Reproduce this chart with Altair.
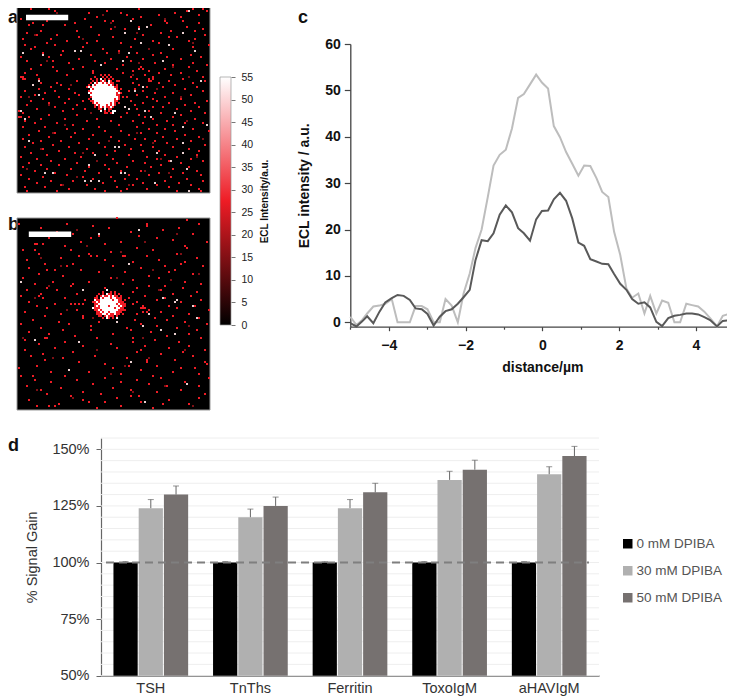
import altair as alt
import pandas as pd

FONT = "Liberation Sans"

# ---------- panels a and b: sparse detector counts ----------
a_red = {
 4:[7,16,61,88,93], 5:[19,45,85,95], 6:[36,52,79], 7:[55,91,71], 8:[82,62,40], 9:[34,58,2],
 10:[44,48,74,83,15], 11:[29,8,75,91], 12:[24,67,13,6], 13:[65,61,85,37], 14:[54,93,47], 15:[30,12,89,77],
 16:[54,72,5,83], 17:[20,41,63,94,10], 18:[31,80,76,48], 19:[3,89,59,17], 20:[25,86,68,40], 21:[62,15,52,35,71],
 22:[76,19,4,96], 23:[9,33,88,57], 24:[43,66,78,7], 25:[29,32,23,89,51], 26:[13,3,45,60,72], 27:[22,87,37,68],
 28:[55,16,2,75,92], 29:[31,47,82,63], 30:[39,73,5,18,57], 31:[26,88,69,44], 32:[53,12,42,78,95], 33:[18,33,62,86],
 34:[61,63,50,28,7,74], 35:[66,58,20,90,38], 36:[38,71,4,53,82], 37:[10,64,77,44,25], 38:[2,3,57,68,93],
 39:[3,4,11,66,68,60,83], 40:[66,67,30,51,76,94], 41:[12,20,58,71,88], 42:[42,8,61,79,22], 43:[17,65,73,35,90],
 44:[26,59,84,11,70], 45:[4,56,63,93,19], 46:[69,29,14,78], 47:[60,87,9,31], 48:[21,55,65,74,2], 49:[13,82,68,26],
 50:[57,95,33,7,70], 51:[24,63,76,16,89], 52:[59,30,5,84], 53:[68,19,91,73], 54:[28,60,10,80,34], 55:[66,23,87,1],
 56:[3,72,55,44,94], 57:[16,61,82,30], 58:[1,2,6,78,64,52], 59:[24,68,89,40,12], 60:[4,58,35,75,47],
 61:[20,84,63,9,93], 62:[51,28,70,78], 63:[14,83,41,60,3], 64:[66,33,88,25,74], 65:[11,52,79,44,96], 66:[29,62,70,19],
 67:[6,84,38,56], 68:[73,16,47,91,27], 69:[59,3,80,36,64], 70:[22,69,12,51,87], 71:[75,41,83,8,31], 72:[62,18,94,54],
 73:[26,78,4,44,68], 74:[13,86,35,57], 75:[71,49,21,91,63], 76:[7,83,38,29], 77:[56,15,74,45,90], 78:[32,65,2,80],
 79:[48,24,87,10,70], 80:[58,76,17,40,93], 81:[6,64,30,82,50], 82:[21,72,44,12], 83:[55,86,36,67,3], 84:[27,78,15,46],
 85:[62,9,90,52,34], 86:[19,71,83,41], 87:[2,56,25,66,92], 88:[47,13,77,33], 89:[60,85,6,38,54], 90:[28,74,17,49,93],
 91:[63,43,10,81], 92:[22,58,87,35,70], 93:[4,50,76,14], 94:[39,65,91,26,55], 95:[5,20,44,52,80,92],
}
a_dim = [(20,6),(47,11),(74,9),(33,19),(60,16),(88,21),(15,30),(51,26),(78,33),(27,42),(6,48),(70,44),(24,62),
 (60,66),(85,60),(12,74),(40,80),(68,71),(90,78),(30,88),(56,92),(76,86),(49,13),(9,17),(66,24),(37,56),(58,37),
 (82,48),(18,66),(46,70),(33,76),(72,79),(5,84),(23,92),(64,85),(93,69),(43,7),(16,52),(86,38),(61,31)]
a_white = [(13,27),(3,26),(11,40),(8,42),(11,47),(2,55),(4,59),(6,70),(18,86),(14,86),(34,90),(37,90),(41,90),
 (36,82),(39,77),(49,73),(51,73),(54,86),(52,86),(70,76),(69,91),(77,80),(83,76),(83,71),(83,63),(79,56),(67,58),
 (64,55),(54,53),(56,54),(63,43),(59,45),(92,40),(86,5),(54,16),(56,26),(62,21),(65,13),(76,22),(83,16),(89,25),
 (73,30),(53,30),(42,32),(29,25),(32,25),(61,14),(57,10),(95,62),(86,95),(85,84)]
a_blob_col, a_blob_row = 34, 37
a_blob = [
 "........r...r.......", ".....r...r.r.r......", "...r..r.w.r.r.r.....", "....r.r.rwr.wr..r...",
 "...r.wrwwrwrwrr.....", "..r.wrwwwwwwrwr.r...", "..wrwwwwwwwwwwwrr...", "...wrwwwwwwwwwwwr.r.",
 "..rwwwwwwwwwwwwwwr..", "..wrwwwwwwwwwwwwrwr.", "...wwwwwwwwwwwwwrr..", "...rwwwwwwwwwwwwwr.r",
 "..r.wwwwwwwwwwwrwr..", "...rrwwwwwwwwwwrr...", "....rwrwwwwwwrwr.r..", ".....rwrwwwrwrwr....",
 ".....r.rwrwrrwr.....", ".......rr.w.rr......", "........w.r.r.ww....", "...........r.rw.....",
]
b_red = {
 0:[50], 1:[85], 3:[25,1,65,91], 4:[65,38], 5:[46,81,12], 6:[73], 7:[57,20], 8:[28,88], 9:[61,41,9], 10:[70,37,16],
 11:[78], 12:[32,95,52], 13:[9,10,13,44], 14:[84,24], 15:[85,60], 16:[9,27,68,3], 17:[47], 18:[11,80,36], 19:[31,37,40,53,54,65],
 20:[22,90], 21:[71,5,44], 22:[58,84], 23:[14,82,28], 24:[25,74,48,93], 25:[62,6], 26:[15,19,32,79], 27:[76,41,54],
 28:[88,11], 29:[23,66], 30:[71,3,47], 31:[77,58], 32:[18,84,36], 33:[28,53,92,9], 34:[27,66,74], 35:[44,60,83,15],
 36:[20,72,5], 37:[58,90], 38:[30,78,12], 39:[11,64,87,2], 40:[13,74,56,24], 41:[92,70,34], 42:[6,60,82], 43:[27,29,31,33,58,19],
 44:[76,89,63,10], 45:[62,63,64,80,15], 46:[66,96,30], 47:[63,65,72,4], 48:[60,86,22], 49:[14,78,33], 50:[33,69,91],
 51:[8,59,75], 52:[21,84,41], 53:[2,26,62,95], 54:[37,70], 55:[12,80,55], 56:[37,57,90,23], 57:[67,6], 58:[16,48,86],
 59:[75,29], 60:[14,15,58,40,92], 61:[69,4], 62:[58,24,81], 63:[47,11], 64:[86,33,64], 65:[50,19,76], 66:[4,62,94],
 67:[60,83,28], 68:[13,72], 69:[7,88,39], 70:[55,23], 71:[14,79,65], 72:[65,31,94], 73:[95,44], 74:[10,70,56],
 75:[1,48,82,89], 76:[26,62], 77:[78,36,17], 78:[52,91], 79:[2,8,68,24], 80:[44,72,96], 81:[9,60,30], 82:[17,84,52],
 83:[66,38], 84:[5,75,91], 85:[22,48], 86:[57,12,82], 87:[33,70], 88:[42,94,15], 89:[57,61,27], 90:[91,50],
 91:[33,76,6], 92:[36,44,62], 93:[73,21,86], 94:[10,16,19,52], 95:[40,68],
}
b_dim = [(30,6),(64,12),(82,18),(22,24),(50,30),(9,40),(71,36),(38,50),(63,60),(84,66),(18,70),(47,78),(74,84),(28,90),
 (12,20),(52,17),(91,28),(40,66),(66,70),(58,87),(3,60),(86,54),(25,46),(77,31),(44,42),(16,34),(68,26),(35,14),
 (80,8),(54,74),(10,86),(88,94)]
b_white = [(61,6),(2,32),(33,36),(80,41),(79,42),(88,44),(90,50),(63,54),(72,56),(79,58),(9,61),(31,62),(26,76),
 (57,72),(85,83),(64,92),(56,23),(66,48),(50,52),(73,40),(41,8)]
b_blob_col, b_blob_row = 37, 36
b_blob = [
 "........w...........", "......r...r.r.......", "....r.r.wrr.r.r.....", "...r.rwrrwrwrr.r....",
 "..rr.wrwwwrwwrrr....", "..wrrwwwwwwrwwrr.r..", ".rrwrwwwwwwwwwrrr...", "..rrwwwwwwwwwrwrrr..",
 "..rwrwwwwrwwwwrwrr..", ".wrrrwwwwwwwrwwrr...", "..rrwrwwwwwwwwrrrr..", "...rrwrwwrwwwrrr....",
 "...rrrwwrwrrwrr.r...", "....rr.rwrrr.r......", "......r.wr.r.w......",
]
RED_LEVEL, DIM_LEVEL, PALE_LEVEL, WHITE_LEVEL = 27, 14, 48, 55
heat_levels = [DIM_LEVEL, RED_LEVEL, PALE_LEVEL, WHITE_LEVEL]
heat_colors = ["#7d1015", "#ee1c25", "#e9cfcf", "#ffffff"]

# ---------- panel c ----------
distance = [-5.00,-4.84,-4.69,-4.56,-4.40,-4.24,-4.09,-3.92,-3.77,-3.61,-3.45,-3.30,-3.14,-2.99,-2.83,-2.67,-2.52,
 -2.36,-2.20,-2.05,-1.89,-1.74,-1.58,-1.42,-1.27,-1.11,-0.95,-0.79,-0.63,-0.48,-0.32,-0.16,-0.01,0.15,0.30,0.46,
 0.62,0.78,0.94,1.09,1.25,1.41,1.56,1.72,1.87,2.03,2.19,2.34,2.50,2.66,2.81,2.97,3.12,3.28,3.44,3.59,3.75,3.90,
 4.06,4.22,4.37,4.55,4.70,4.86,5.00]
dark_curve = [-0.2,-0.9,0.2,1.3,-0.2,2.3,4.3,5.2,5.9,5.7,4.8,3.0,2.8,1.8,-0.7,1.2,2.4,2.8,4.0,5.4,7.0,13.4,17.7,17.5,
 19.2,23.2,25.2,23.7,20.3,19.2,17.6,22.2,24.0,24.1,26.5,27.9,26.2,22.4,17.2,16.5,13.6,13.1,12.6,12.5,10.4,8.3,7.0,
 5.0,4.0,4.3,3.2,0.1,-0.8,0.9,1.4,1.6,1.9,1.9,1.7,1.1,0.5,-0.9,0.3,0.4,-0.1]
light_curve = [1.2,-0.6,0.5,1.9,3.4,3.6,4.0,5.0,0,0,0,3.5,3.5,2.8,0,0,5.0,3.6,0,6.2,10.5,16.0,20.0,27.0,33.8,36.1,37.2,
 41.8,48.4,49.2,51.3,53.4,51.7,50.4,42.3,39.9,36.7,34.2,31.6,33.8,33.7,31.1,28.1,27.0,19.5,14.5,7.3,5.3,6.2,1.9,5.7,
 1.9,4.7,4.2,0,0,4.0,3.7,3.4,2.3,0.9,-0.9,1.4,1.8,1.9]

# ---------- panel d ----------
assays = ["TSH", "TnThs", "Ferritin", "ToxoIgM", "aHAVIgM"]
series = ["0 mM DPIBA", "30 mM DPIBA", "50 mM DPIBA"]
bar_colors = ["#000000", "#b0b0b0", "#767170"]
gain = {"0 mM DPIBA": [100, 100, 100, 100, 100],
        "30 mM DPIBA": [124, 120, 124, 136.5, 139],
        "50 mM DPIBA": [130, 125, 131, 141, 147]}
gain_top = {"0 mM DPIBA": [100.4, 100.4, 100.4, 100.4, 100.4],
            "30 mM DPIBA": [127.8, 123.6, 127.8, 140.3, 142.3],
            "50 mM DPIBA": [133.8, 128.9, 135, 145.2, 151.3]}
grid_levels = [50,55,60,65,70,75,80,85,90,95,100,105,110,115,120,125,130,135,140,145,150,155]
d_ticks = [50, 75, 100, 125, 150]
colorbar_ticks = [0,5,10,15,20,25,30,35,40,45,50,55]
c_ticks_y = [0,10,20,30,40,50,60]
c_major = [-4,-2,0,2,4]
c_minor = [-5,-3,-1,1,3,5]

W, H = 719, 689


def spots(rows, dims, whites, blob, col0, row0):
    out = []
    for r, cols in rows.items():
        out += [{"col": c, "row": r, "v": RED_LEVEL} for c in cols]
    out += [{"col": c, "row": r, "v": DIM_LEVEL} for c, r in dims]
    out += [{"col": c, "row": r, "v": PALE_LEVEL} for c, r in whites]
    for i, line in enumerate(blob):
        for j, ch in enumerate(line):
            if ch != ".":
                out.append({"col": col0 + j, "row": row0 + i, "v": WHITE_LEVEL if ch == "w" else RED_LEVEL})
    return pd.DataFrame(out)


heat_scale = alt.Scale(domain=heat_levels, range=heat_colors)


def image_panel(df, xr, yr, bar):
    xs = alt.Scale(domain=[0, 96.5], range=xr)
    ys = alt.Scale(domain=[0, 96.0], range=yr)
    frame = pd.DataFrame({"a": [0], "b": [96.5], "c": [0], "d": [96.0]})
    bg = alt.Chart(frame).mark_rect(color="#000000", stroke="#9a9a9a", strokeWidth=1).encode(
        x=alt.X("a:Q", scale=xs, axis=None), x2="b:Q",
        y=alt.Y("c:Q", scale=ys, axis=None), y2="d:Q")
    dots = alt.Chart(df).mark_rect(width=2, height=2).encode(
        x=alt.X("col:Q", scale=xs, axis=None),
        y=alt.Y("row:Q", scale=ys, axis=None),
        color=alt.Color("v:O", scale=heat_scale, legend=None))
    sb = pd.DataFrame([bar], columns=["x0", "x1", "y0", "y1"])
    scale_bar = alt.Chart(sb).mark_rect(color="#ffffff").encode(
        x=alt.X("x0:Q", scale=xs, axis=None), x2="x1:Q",
        y=alt.Y("y0:Q", scale=ys, axis=None), y2="y1:Q")
    return [bg, dots, scale_bar]


def letter(s, x, y):
    return alt.Chart(pd.DataFrame({"k": [0]})).mark_text(
        text=s, font=FONT, fontSize=18, fontWeight="bold", color="#111111", align="left", baseline="alphabetic"
    ).encode(x=alt.value(x), y=alt.value(y))


layers = [letter("a", 0, 15), letter("b", 0, 221.5), letter("c", 290, 15), letter("d", 0, 443)]

layers += image_panel(spots(a_red, a_dim, a_white, a_blob, a_blob_col, a_blob_row), [9, 202], [-7, 185],
                      [4.5, 25.6, 6.9, 9.6])
layers += image_panel(spots(b_red, b_dim, b_white, b_blob, b_blob_col, b_blob_row), [9, 202], [210, 402],
                      [5.9, 27.1, 6.7, 9.5])

# colour bar
cb_grad = alt.LinearGradient(gradient="linear",
                             stops=[alt.GradientStop(offset=0, color="#000000"),
                                    alt.GradientStop(offset=0.5, color="#ee1c25"),
                                    alt.GradientStop(offset=1, color="#ffffff")],
                             x1=0, x2=0, y1=1, y2=0)
layers.append(alt.Chart(pd.DataFrame({"lo": [0], "hi": [55]})).mark_rect(
    color=cb_grad, stroke="#999999", strokeWidth=0.7
).encode(
    x=alt.value(212), x2=alt.value(223),
    y=alt.Y("lo:Q", scale=alt.Scale(domain=[0, 55], range=[317, 69]),
            axis=alt.Axis(orient="right", offset=223 - W, values=colorbar_ticks, title="ECL Intensity/a.u.",
                          titleFont=FONT, titleFontSize=10, titleFontWeight="bold", titleAngle=270,
                          titleColor="#111111", titlePadding=12, titleBaseline="middle",
                          labelFont=FONT, labelFontSize=10.5, labelColor="#222222", labelPadding=6,
                          tickSize=4, tickColor="#777777", domain=False, grid=False)),
    y2="hi:Q"))

# panel c
cdf = pd.DataFrame({"d": distance, "dark": dark_curve, "light": light_curve})
c_x = alt.Scale(domain=[-5, 5], range=[342.3, 726.3])
c_y = alt.Scale(domain=[-0.95, 60], range=[318.7, 36], nice=False, zero=False)
layers.append(alt.Chart(cdf).mark_line(color="#bdbdbd", strokeWidth=2).encode(
    x=alt.X("d:Q", scale=c_x,
            axis=alt.Axis(orient="bottom", offset=318.7 - H, values=c_major, title="distance/µm",
                          titleFont=FONT, titleFontSize=14, titleFontWeight="bold", titleColor="#111111", titlePadding=8,
                          labelFont=FONT, labelFontSize=14, labelFontWeight="bold", labelColor="#111111", labelPadding=8,
                          tickSize=4, tickColor="#444444", tickWidth=1.2, domainColor="#444444", domainWidth=1.3,
                          grid=False)),
    y=alt.Y("light:Q", scale=c_y,
            axis=alt.Axis(orient="left", offset=-342.3, values=c_ticks_y, title="ECL intensity / a.u.",
                          titleFont=FONT, titleFontSize=14, titleFontWeight="bold", titleColor="#111111", titlePadding=13,
                          labelFont=FONT, labelFontSize=14, labelFontWeight="bold", labelColor="#111111", labelPadding=4,
                          tickSize=6, tickColor="#444444", tickWidth=1.2, domainColor="#444444", domainWidth=1.3,
                          grid=False))))
layers.append(alt.Chart(cdf).mark_line(color="#595959", strokeWidth=2).encode(
    x=alt.X("d:Q", scale=c_x,
            axis=alt.Axis(orient="bottom", offset=318.7 - H, values=c_minor, title=None, labels=False,
                          tickSize=2.5, tickColor="#444444", tickWidth=1.2, domain=False, grid=False)),
    y=alt.Y("dark:Q", scale=c_y, axis=None)))

# panel d
rows = []
for s in series:
    for i, a in enumerate(assays):
        rows.append({"assay": a, "series": s, "gain": gain[s][i], "top": gain_top[s][i], "base": 50})
ddf = pd.DataFrame(rows)
grid_df = pd.DataFrame({"g": grid_levels})
d_y = alt.Scale(domain=[50, 155], range=[667.7, 430], nice=False, zero=False)


def d_x(axis=None):
    return alt.X("assay:N", sort=assays,
                 scale=alt.Scale(domain=assays, range=[93, 591], paddingInner=0.25, paddingOuter=0.125), axis=axis)


d_off = alt.XOffset("series:N", sort=series, scale=alt.Scale(domain=series, paddingInner=0.04))

layers.append(alt.Chart(grid_df).mark_rule(color="#eeeeee", strokeWidth=1).encode(
    x=alt.value(93), x2=alt.value(591),
    y=alt.Y("g:Q", scale=d_y,
            axis=alt.Axis(orient="left", offset=-93, values=d_ticks, labelExpr="datum.value + '%'", title="% Signal Gain",
                          titleFont=FONT, titleFontSize=14.5, titleFontWeight="normal", titleColor="#333333", titlePadding=12,
                          labelFont=FONT, labelFontSize=14.5, labelColor="#333333", labelPadding=7,
                          tickSize=5, tickColor="#666666", domainColor="#666666", domainWidth=1.2, grid=False))))
layers.append(alt.Chart(ddf).mark_bar().encode(
    x=d_x(alt.Axis(orient="bottom", offset=667.7 - H, title=None, ticks=False, labelAngle=0,
                   labelFont=FONT, labelFontSize=14.5, labelColor="#333333", labelPadding=6,
                   domainColor="#555555", domainWidth=1.2, grid=False)),
    xOffset=d_off,
    y=alt.Y("gain:Q", scale=d_y, axis=None), y2="base:Q",
    color=alt.Color("series:N", sort=series, scale=alt.Scale(domain=series, range=bar_colors),
                    legend=alt.Legend(orient="none", legendX=613, legendY=529, title=None, symbolType="square",
                                      symbolSize=90, symbolStrokeWidth=0, labelFont=FONT, labelFontSize=13.5,
                                      labelColor="#555555", rowPadding=12, labelOffset=2))))
layers.append(alt.Chart(ddf).mark_rule(color="#666666", strokeWidth=1).encode(
    x=d_x(), xOffset=d_off, y=alt.Y("gain:Q", scale=d_y, axis=None), y2="top:Q"))
layers.append(alt.Chart(ddf).mark_tick(color="#666666", thickness=1, size=6, orient="horizontal").encode(
    x=d_x(), xOffset=d_off, y=alt.Y("top:Q", scale=d_y, axis=None)))
layers.append(alt.Chart(pd.DataFrame({"ref": [100]})).mark_rule(
    color="#7f7f7f", strokeWidth=2, strokeDash=[8, 5]
).encode(x=alt.value(98), x2=alt.value(581), y=alt.Y("ref:Q", scale=d_y, axis=None)))

chart = alt.layer(*layers).resolve_scale(
    x="independent", y="independent", color="independent"
).resolve_axis(x="independent", y="independent").properties(
    width=W, height=H, padding=0, autosize=alt.AutoSizeParams(type="none")
).configure_view(stroke=None)

chart.save("out.html", embed_options={"renderer": "svg", "actions": False})
